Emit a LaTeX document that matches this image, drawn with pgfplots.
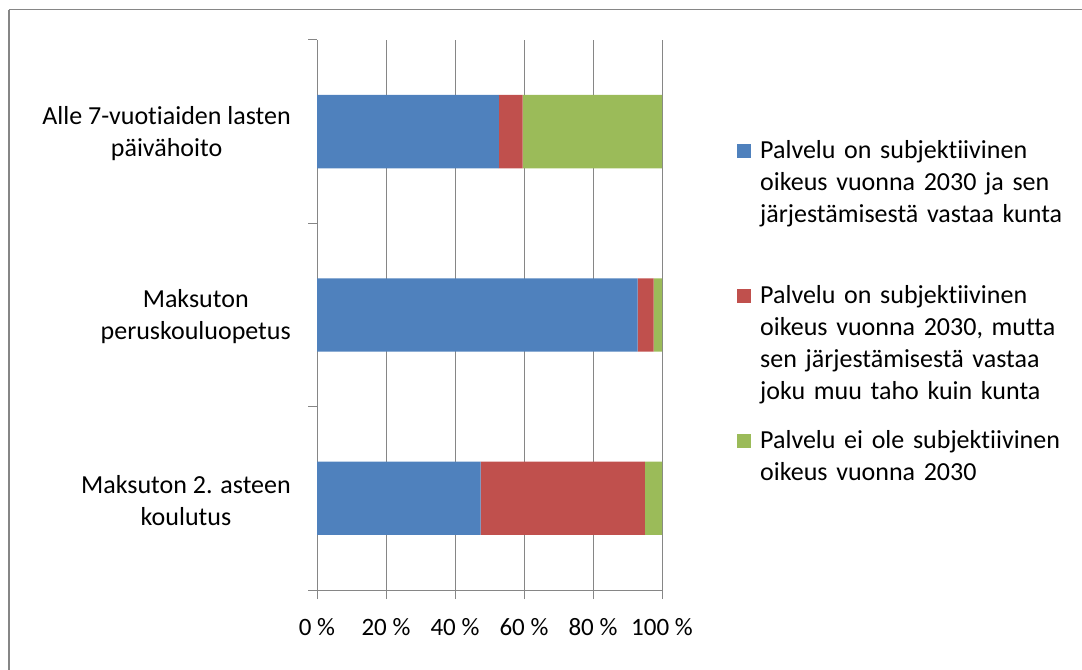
\documentclass[border=0pt]{standalone}
\usepackage{fontspec}
\setmainfont{Carlito}[Ligatures=NoCommon]
\usepackage{pgfplots}
\pgfplotsset{compat=1.18}
\definecolor{s1}{HTML}{4F81BD}
\definecolor{s2}{HTML}{C0504D}
\definecolor{s3}{HTML}{9BBB59}
\definecolor{axgray}{HTML}{868686}
\newcommand{\chartfont}{\fontsize{26bp}{32bp}\selectfont}
\newcommand{\tickfont}{\fontsize{25bp}{30bp}\selectfont}

\begin{document}
\begin{tikzpicture}
\useasboundingbox (0,0) rectangle (1082bp,670bp);
% chart area border
\draw[axgray, line width=2bp] (8.5bp,0) -- (8.5bp,660bp);
\draw[axgray, line width=1bp] (8.5bp,660bp) -- (1082bp,660bp);
\begin{axis}[
  at={(317bp,80bp)}, anchor=south west,
  scale only axis, width=345bp, height=550bp,
  xbar stacked, bar width=0.4,
  xmin=0, xmax=100, ymin=-0.5, ymax=2.5,
  enlargelimits=false,
  axis x line*=bottom, axis y line*=left,
  axis line style={axgray, line width=1bp},
  tick align=outside, major tick length=9bp,
  tick style={axgray, line width=1bp},
  xtick={0,20,...,100},
  xticklabels={0 \%,20 \%,40 \%,60 \%,80 \%,100 \%},
  xticklabel style={font=\tickfont, inner sep=0pt, anchor=base, yshift=-36bp},
  xmajorgrids, major grid style={axgray, line width=1bp},
  ytick={-0.5,0.5,1.5,2.5},
  yticklabels={},
  extra y ticks={0,1,2},
  extra y tick labels={{Maksuton 2. asteen\\koulutus},{Maksuton\\peruskouluopetus},{Alle 7-vuotiaiden lasten\\päivähoito}},
  extra y tick style={major tick length=0pt, tick style={draw=none},
    yticklabel style={font=\chartfont, align=center, inner sep=0pt, anchor=east, xshift=-26bp, yshift=-2bp}},
  legend style={at={(1.2174,0.8127)}, anchor=north west, draw=none, fill=none,
    inner sep=0pt, row sep=0pt, column sep=9bp, font=\chartfont,
    nodes={anchor=base west, align=left, text width=320bp, inner sep=0pt,
      text height=15bp, text depth=130bp}},
  legend image code/.code={\fill[#1] (0bp,0bp) rectangle (14bp,14bp);},
]
\addplot[fill=s1, draw=none] coordinates {(47.4,0) (92.9,1) (52.7,2)};
\addplot[fill=s2, draw=none] coordinates {(47.6,0) (4.7,1) (6.9,2)};
\addplot[fill=s3, draw=none] coordinates {(5.0,0) (2.4,1) (40.4,2)};
\addlegendentry{Palvelu on subjektiivinen\\oikeus vuonna 2030 ja sen\\järjestämisestä vastaa kunta}
\addlegendentry{Palvelu on subjektiivinen\\oikeus vuonna 2030, mutta\\sen järjestämisestä vastaa\\joku muu taho kuin kunta}
\addlegendentry{Palvelu ei ole subjektiivinen\\oikeus vuonna 2030}
\end{axis}
\end{tikzpicture}
\end{document}
